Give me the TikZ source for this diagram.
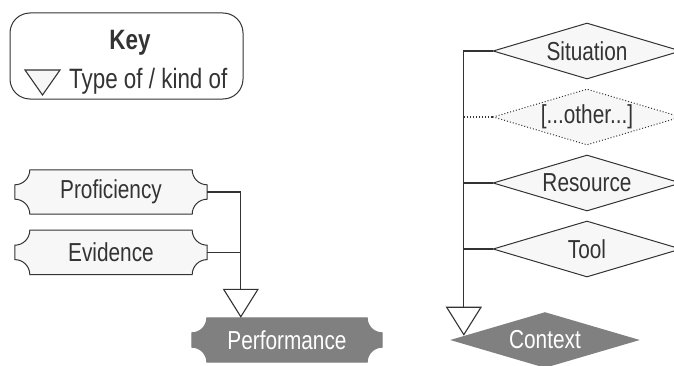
\documentclass[tikz,border=0pt]{standalone}
\usepackage{fontspec}
\setmainfont{Liberation Sans}[FakeStretch=0.8]
\usetikzlibrary{positioning,shapes.geometric,arrows.meta,backgrounds,calc}

\definecolor{inkgray}{HTML}{333333}
\definecolor{shapegray}{HTML}{808080}
\definecolor{paleshape}{HTML}{F7F7F7}

\begin{document}
\begin{tikzpicture}[x=1pt, y=1pt,
  every node/.style = {font=\fontsize{26}{30}\selectfont, text=inkgray, inner sep=0pt},
  scroll/.style = {minimum width=192pt, minimum height=44pt},
  kind/.style = {diamond, draw=inkgray, fill=paleshape, line width=1pt, aspect=3.4,
                 minimum width=188pt, minimum height=56pt},
  typeof/.style = {draw=inkgray, line width=1.1pt, -{Triangle[length=29pt, width=36pt, fill=white]}},
  link/.style = {draw=inkgray, line width=1.1pt}
]
\useasboundingbox (0,0) rectangle (674,365);

% key
\node[draw=inkgray, line width=1pt, rounded corners=20pt,
      minimum width=233pt, minimum height=86pt] (key) at (126.5,309) {};
\node[font=\fontsize{28}{32}\selectfont\bfseries, anchor=base] (keytitle) at (130,315) {Key};
\node[font=\fontsize{28}{32}\selectfont, anchor=base west] (keytext) at (69,277) {Type of / kind of};
\draw[link, fill=paleshape] (25,295) -- (60,295) -- (42.5,270) -- cycle;

% left group
\node[scroll] (prof) at (111,173) {Proficiency};
\node[scroll, below=16pt of prof] (evid) {Evidence};
\node[scroll, minimum width=190pt, text=white] (perf) at (287,25) {Performance};

\begin{scope}[on background layer]
\foreach \n/\c/\d in {prof/paleshape/inkgray, evid/paleshape/inkgray, perf/shapegray/shapegray} {
  \draw[draw=\d, line width=1pt, fill=\c]
    ($(\n.north west)+(15pt,0)$) arc[start angle=0, end angle=-90, radius=15pt]
    -- ($(\n.south west)+(0,15pt)$) arc[start angle=90, end angle=0, radius=15pt]
    -- ($(\n.south east)-(15pt,0)$) arc[start angle=180, end angle=90, radius=15pt]
    -- ($(\n.north east)-(0,15pt)$) arc[start angle=270, end angle=180, radius=15pt]
    -- cycle;
}
\end{scope}

\coordinate (perfjoin) at ([xshift=49pt]perf.north west);
\draw[typeof] (prof.east) -| (perfjoin);
\draw[link] (evid.east) -- (evid.east -| perfjoin);

% right group
\node[kind] (sit) at (587,314) {Situation};
\node[kind, dotted, below=9pt of sit] (oth) {[...other...]};
\node[kind, below=9pt of oth] (res) {Resource};
\node[kind, below=9pt of res] (tool) {Tool};
\node[kind, draw=none, fill=shapegray, text=white, minimum width=190pt] (ctx) at (545,25) {Context};

\coordinate (ctxjoin) at ($(ctx.west)!0.15!(ctx.north)$);
\draw[typeof] (sit.west) -| (ctxjoin);
\draw[link, dotted] (oth.west) -- (oth.west -| ctxjoin);
\draw[link] (res.west) -- (res.west -| ctxjoin);
\draw[link] (tool.west) -- (tool.west -| ctxjoin);
\end{tikzpicture}
\end{document}
